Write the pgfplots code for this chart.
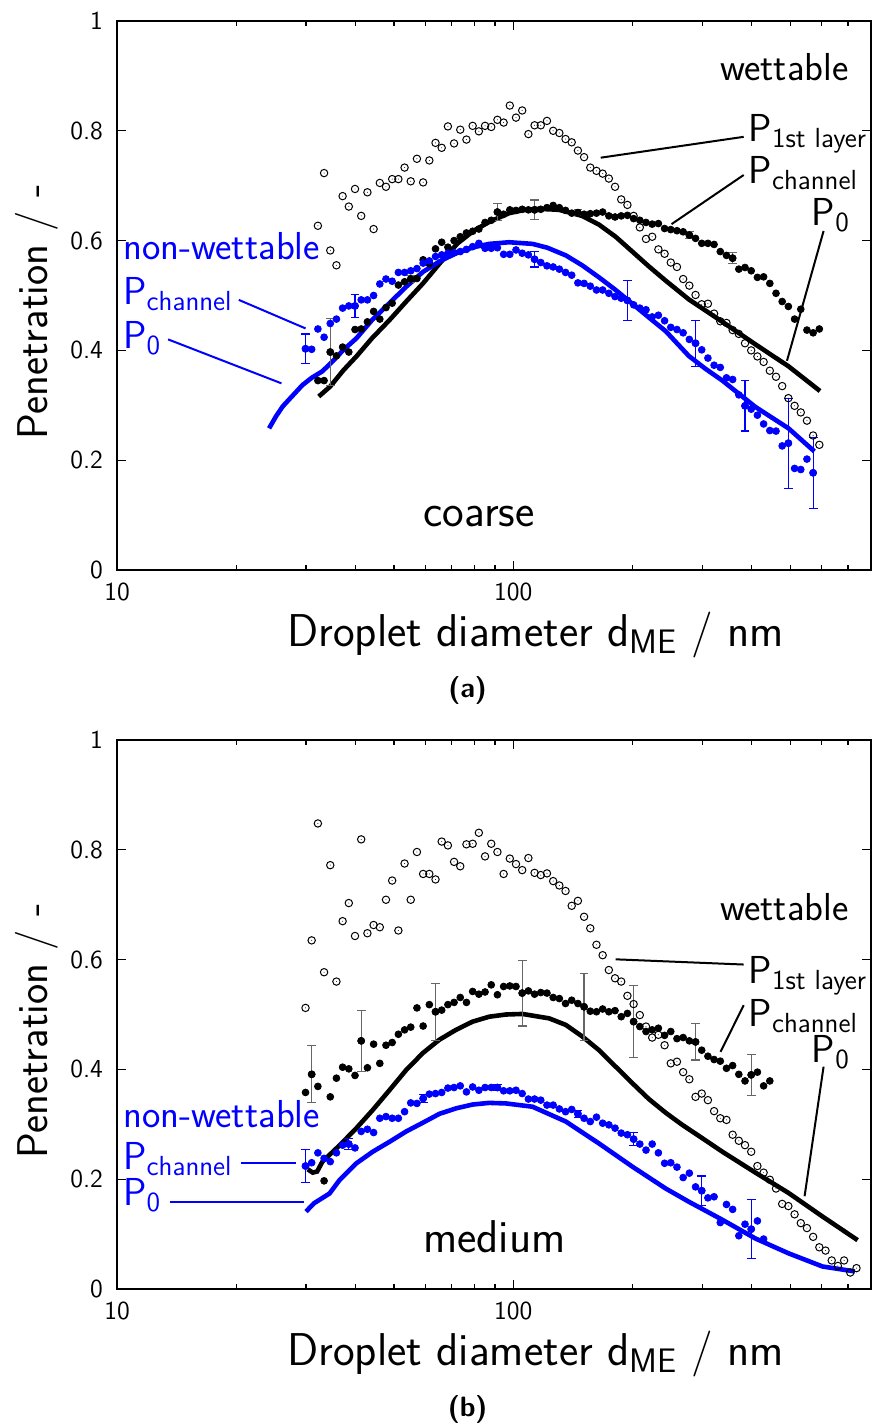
\documentclass[border=0pt]{standalone}
\usepackage{pgfplots}
\pgfplotsset{compat=1.18}
\usepackage{pgfplotstable}
\renewcommand{\familydefault}{\sfdefault}
\newcommand{\subA}[1]{\raisebox{-3pt}{\fontsize{13.8}{15}\selectfont #1}}
\newcommand{\subL}[1]{\raisebox{-3.5pt}{\fontsize{17}{18}\selectfont #1}}

\pgfdeclareplotmark{odot}{%
  \pgfpathcircle{\pgfpointorigin}{\pgfplotmarksize}\pgfusepathqstroke
  \pgfpathcircle{\pgfpointorigin}{0.13\pgfplotmarksize}\pgfusepathqfill}

% ---------------- panel (a) coarse ----------------
\pgfplotstableread{
d P
32.14 .627
33.32 .723
34.54 .582
35.80 .555
37.11 .681
38.47 .662
39.88 .694
41.34 .645
42.86 .688
44.43 .621
46.06 .705
47.74 .698
49.49 .712
51.31 .712
53.19 .733
55.13 .708
57.15 .749
59.25 .706
61.42 .746
63.67 .778
66.00 .769
68.42 .808
70.93 .777
73.52 .802
76.22 .784
79.01 .809
81.91 .799
84.91 .809
88.02 .807
91.24 .820
94.59 .815
98.05 .846
101.64 .824
105.37 .837
109.23 .794
113.23 .810
117.38 .810
121.68 .818
126.14 .800
130.76 .796
135.55 .785
140.50 .779
145.65 .764
150.98 .752
156.51 .733
162.25 .727
168.19 .722
174.35 .713
180.74 .698
187.36 .675
194.23 .665
201.34 .645
208.72 .624
216.37 .603
224.29 .607
232.51 .584
241.03 .576
249.86 .560
259.01 .552
268.50 .530
278.34 .518
288.54 .501
299.11 .484
310.07 .485
321.4 .467
333.2 .453
345.4 .450
358.0 .437
371.1 .430
384.7 .413
398.8 .400
413.4 .389
428.6 .379
444.3 .363
460.6 .352
477.4 .335
494.9 .313
513.1 .299
531.9 .287
551.3 .272
571.5 .245
592.5 .228
}\aOpen

\pgfplotstableread{
d P
32.14 .345
33.32 .345
34.54 .397
35.80 .390
37.11 .406
38.47 .397
39.88 .438
41.34 .439
42.86 .452
44.43 .471
46.06 .457
47.74 .478
49.49 .486
51.31 .519
53.19 .525
55.13 .530
57.15 .531
59.25 .565
61.42 .558
63.67 .585
66.00 .597
68.42 .588
70.93 .600
73.52 .607
76.22 .614
79.01 .617
81.91 .621
84.91 .633
88.02 .637
91.24 .652
94.59 .648
98.05 .656
101.64 .655
105.37 .657
109.23 .656
113.23 .656
117.38 .657
121.68 .660
126.14 .664
130.76 .660
135.55 .655
140.50 .650
145.65 .651
150.98 .648
156.51 .649
162.25 .650
168.19 .652
174.35 .645
180.74 .643
187.36 .645
194.23 .646
201.34 .640
208.72 .637
216.37 .633
224.29 .630
232.51 .631
241.03 .622
249.86 .620
259.01 .618
268.50 .616
278.34 .610
288.54 .604
299.11 .595
310.07 .595
321.4 .593
333.2 .580
345.4 .573
358.0 .568
371.1 .548
384.7 .551
398.8 .545
413.4 .533
428.6 .534
444.3 .522
460.6 .504
477.4 .489
494.9 .480
513.1 .457
531.9 .475
551.3 .437
571.5 .432
592.5 .439
}\aBlack

\pgfplotstableread{
d P
29.91 .403
31.00 .402
32.14 .439
33.32 .424
34.54 .449
35.80 .457
37.11 .477
38.47 .481
39.88 .481
41.34 .492
42.86 .492
44.43 .500
46.06 .521
47.74 .530
49.49 .526
51.31 .542
53.19 .542
55.13 .545
57.15 .549
59.25 .559
61.42 .563
63.67 .571
66.00 .574
68.42 .577
70.93 .578
73.52 .580
76.22 .584
79.01 .589
81.91 .595
84.91 .586
88.02 .586
91.24 .587
94.59 .575
98.05 .575
101.64 .583
105.37 .577
109.23 .574
113.23 .566
117.38 .560
121.68 .554
126.14 .552
130.76 .548
135.55 .542
140.50 .537
145.65 .523
150.98 .522
156.51 .517
162.25 .510
168.19 .510
174.35 .504
180.74 .498
187.36 .495
194.23 .491
201.34 .483
208.72 .477
216.37 .474
224.29 .461
232.51 .464
241.03 .454
249.86 .442
259.01 .438
268.50 .432
278.34 .420
288.54 .413
299.11 .401
310.07 .386
321.4 .373
333.2 .369
345.4 .350
358.0 .347
371.1 .319
384.7 .299
398.8 .293
413.4 .282
428.6 .266
444.3 .254
460.6 .253
477.4 .226
494.9 .231
513.1 .185
531.9 .183
551.3 .202
571.5 .177
}\aBlue

\pgfplotstableread{
d P
32.3 .316
34.5 .334
37.3 .364
40.2 .389
44.0 .422
48.7 .455
53.7 .489
59.2 .522
65.5 .560
72.4 .595
79.5 .618
87.0 .634
97.7 .650
107 .656
116.3 .658
130.6 .656
149.3 .645
164.7 .629
181.4 .607
199.8 .580
220.0 .553
242.6 .527
277.4 .493
337.3 .452
408.6 .411
495.3 .371
594.8 .326
}\aBlackLine

\pgfplotstableread{
d P
24.2 .258
25.2 .280
26.2 .298
27.3 .312
29.4 .337
31.0 .350
33.0 .362
35.0 .380
37.3 .401
40.2 .422
44.0 .455
48.7 .486
53.7 .516
59.2 .543
65.5 .563
72.4 .578
79.5 .588
87.0 .594
97.7 .597
111.9 .594
122 .587
135.8 .573
149.3 .555
164.7 .533
181.4 .510
199.8 .485
220.0 .460
242.6 .435
277.4 .390
305 .367
337.3 .345
408.6 .297
495.3 .258
575.6 .216
}\aBlueLine

\pgfplotstableread{
d P e
34.54 .397 .061
55.13 .530 .006
91.24 .652 .015
113.23 .656 .018
145.65 .651 .006
278.34 .610 .006
358.0 .568 .010
}\aBlackErr

\pgfplotstableread{
d P e
29.91 .403 .027
39.88 .481 .021
113.23 .566 .014
194.23 .491 .036
288.54 .413 .042
384.7 .299 .046
494.9 .231 .082
571.5 .177 .065
}\aBlueErr

% ---------------- panel (b) medium ----------------
\pgfplotstableread{
d P
29.91 .512
31.00 .635
32.14 .848
33.32 .577
34.54 .772
35.80 .560
37.11 .670
38.47 .703
39.88 .643
41.34 .819
42.86 .648
44.43 .663
46.06 .659
47.74 .709
49.49 .744
51.31 .653
53.19 .775
55.13 .709
57.15 .796
59.25 .756
61.42 .756
63.67 .746
66.00 .815
68.42 .808
70.93 .778
73.52 .770
76.22 .810
79.01 .811
81.91 .831
84.91 .788
88.02 .811
91.24 .796
94.59 .756
98.05 .784
101.64 .774
105.37 .763
109.23 .785
113.23 .758
117.38 .754
121.68 .757
126.14 .743
130.76 .735
135.55 .725
140.50 .698
145.65 .707
150.98 .678
156.51 .657
162.25 .627
168.19 .608
174.35 .581
180.74 .566
187.36 .560
194.23 .534
201.34 .519
208.72 .499
216.37 .478
224.29 .458
232.51 .463
241.03 .444
249.86 .411
259.01 .414
268.50 .395
278.34 .382
288.54 .350
299.11 .356
310.07 .344
321.4 .324
333.2 .311
345.4 .308
358.0 .281
371.1 .270
384.7 .262
398.8 .250
413.4 .224
428.6 .212
444.3 .199
460.6 .183
477.4 .155
494.9 .151
513.1 .136
531.9 .120
551.3 .111
571.5 .095
592.5 .076
614.2 .070
636.7 .052
660.0 .042
684.2 .052
709.3 .030
735.3 .038
}\bOpen

\pgfplotstableread{
d P
29.91 .358
31.00 .391
32.14 .369
33.32 .197
34.54 .350
35.80 .384
37.11 .404
38.47 .401
39.88 .389
41.34 .452
42.86 .403
44.43 .446
46.06 .411
47.74 .444
49.49 .449
51.31 .464
53.19 .472
55.13 .477
57.15 .512
59.25 .479
61.42 .518
63.67 .505
66.00 .508
68.42 .518
70.93 .522
73.52 .531
76.22 .522
79.01 .542
81.91 .537
84.91 .541
88.02 .554
91.24 .536
94.59 .551
98.05 .552
101.64 .551
105.37 .539
109.23 .543
113.23 .537
117.38 .540
121.68 .539
126.14 .531
130.76 .529
135.55 .520
140.50 .526
145.65 .520
150.98 .514
156.51 .506
162.25 .505
168.19 .510
174.35 .505
180.74 .507
187.36 .496
194.23 .502
201.34 .487
208.72 .478
216.37 .469
224.29 .472
232.51 .475
241.03 .462
249.86 .469
259.01 .456
268.50 .458
278.34 .452
288.54 .450
299.11 .435
310.07 .424
321.4 .418
333.2 .415
345.4 .402
358.0 .407
371.1 .391
384.7 .379
398.8 .390
413.4 .395
428.6 .370
444.3 .379
}\bBlack

\pgfplotstableread{
d P
29.91 .224
31.00 .230
32.14 .248
33.32 .238
34.54 .232
35.80 .248
37.11 .262
38.47 .264
39.88 .257
41.34 .287
42.86 .291
44.43 .285
46.06 .311
47.74 .314
49.49 .311
51.31 .311
53.19 .323
55.13 .339
57.15 .338
59.25 .347
61.42 .355
63.67 .356
66.00 .358
68.42 .366
70.93 .367
73.52 .370
76.22 .359
79.01 .368
81.91 .362
84.91 .367
88.02 .367
91.24 .367
94.59 .361
98.05 .361
101.64 .362
105.37 .356
109.23 .346
113.23 .346
117.38 .344
121.68 .335
126.14 .335
130.76 .328
135.55 .323
140.50 .327
145.65 .319
150.98 .311
156.51 .305
162.25 .313
168.19 .302
174.35 .299
180.74 .293
187.36 .284
194.23 .281
201.34 .273
208.72 .264
216.37 .253
224.29 .264
232.51 .248
241.03 .229
249.86 .230
259.01 .222
268.50 .203
278.34 .211
288.54 .186
299.11 .179
310.07 .166
321.4 .168
333.2 .121
345.4 .154
358.0 .145
371.1 .097
384.7 .118
398.8 .109
413.4 .124
428.6 .091
}\bBlue

\pgfplotstableread{
d P
30.3 .218
31.2 .212
32.0 .214
33.0 .232
36.5 .262
40.2 .293
44.2 .326
48.7 .362
53.7 .399
59.2 .430
65.1 .454
71.7 .472
79.0 .487
87.0 .496
95.9 .500
105.5 .501
123.2 .493
135.8 .481
149.4 .460
164.7 .435
181.4 .405
199.8 .375
220.0 .346
242.6 .321
267.1 .299
294.0 .279
337.3 .250
408.6 .212
495.3 .175
603.5 .132
740 .089
}\bBlackLine

\pgfplotstableread{
d P
30.0 .141
31.4 .156
34.4 .174
36.5 .199
40.2 .229
44.2 .250
48.7 .268
53.7 .287
59.2 .303
65.1 .319
71.7 .329
79.0 .336
87.0 .339
95.9 .338
111.9 .332
135.8 .305
164.7 .265
199.8 .223
242.6 .183
277.4 .159
337.3 .126
408.6 .092
495.3 .065
603.5 .041
728.4 .032
}\bBlueLine

\pgfplotstableread{
d P e
31.00 .391 .052
41.34 .452 .056
63.67 .505 .052
105.37 .539 .060
150.98 .514 .061
201.34 .487 .066
288.54 .450 .033
398.8 .390 .037
}\bBlackErr

\pgfplotstableread{
d P e
29.91 .224 .030
38.47 .264 .010
59.25 .347 .008
91.24 .367 .006
145.65 .319 .006
201.34 .273 .012
299.11 .179 .027
398.8 .109 .054
}\bBlueErr

\tikzset{ann/.style={font=\fontsize{19.5}{22}\selectfont, inner sep=0pt},
         big/.style={font=\fontsize{23}{26}\selectfont, inner sep=0pt}}

\begin{document}
\begin{tikzpicture}
\path[use as bounding box] (0,0) rectangle (436pt,713pt);

% ---------- (a) ----------
\begin{axis}[
    at={(58.5pt,428pt)}, anchor=south west,
    scale only axis, width=377pt, height=274.5pt,
    xmode=log, xmin=10, xmax=800, ymin=0, ymax=1,
    ytick={0,0.2,0.4,0.6,0.8,1}, yticklabels={0,0.2,0.4,0.6,0.8,1},
    xtick={10,100}, xticklabels={10,100},
    minor xtick={20,30,40,50,60,70,80,90,200,300,400,500,600,700,800},
    tick align=inside, major tick length=4.5pt, minor tick length=2.5pt,
    axis line style={line width=0.9pt},
    every tick/.append style={black, line width=0.6pt},
    tick label style={font=\fontsize{13}{15}\selectfont},
    yticklabel style={xshift=-3.5pt},
    xticklabel style={yshift=-3pt},
    xlabel={Droplet diameter d\subL{ME} / nm},
    ylabel={Penetration / -},
    xlabel style={at={(axis description cs:0.555,-0.118)}, anchor=center, font=\fontsize{23}{26}\selectfont},
    ylabel style={at={(axis description cs:-0.0927,0.4705)}, anchor=base, font=\fontsize{21.5}{24}\selectfont},
    clip=false]
\addplot[no marks, black, line width=2.3pt] table[x=d,y=P] {\aBlackLine};
\addplot[no marks, blue, line width=2.3pt] table[x=d,y=P] {\aBlueLine};
\addplot[only marks, mark=odot, mark size=1.85pt, black, mark options={line width=0.5pt}] table[x=d,y=P] {\aOpen};
\addplot[only marks, mark=*, mark size=1.7pt, black] table[x=d,y=P] {\aBlack};
\addplot[only marks, mark=*, mark size=1.7pt, black,
   error bars/.cd, y dir=both, y explicit,
   error bar style={gray!80!black, line width=0.6pt},
   error mark options={rotate=90, gray!80!black, line width=0.6pt, mark size=2.2pt}] table[x=d,y=P,y error=e] {\aBlackErr};
\addplot[only marks, mark=*, mark size=1.7pt, blue] table[x=d,y=P] {\aBlue};
\addplot[only marks, mark=*, mark size=1.7pt, blue,
   error bars/.cd, y dir=both, y explicit,
   error bar style={blue, line width=0.6pt},
   error mark options={rotate=90, blue, line width=0.6pt, mark size=2.2pt}] table[x=d,y=P,y error=e] {\aBlueErr};

\node[ann, anchor=base] at (axis cs:484,0.8925) {wettable};
\node[ann, anchor=base west] at (axis cs:392,0.780) {P\subA{1st layer}};
\node[ann, anchor=base west] at (axis cs:392,0.704) {P\subA{channel}};
\node[ann, anchor=base west] at (axis cs:566,0.628) {P\subA{0}};
\node[ann, anchor=base west, blue] at (axis cs:10.35,0.565) {non-wettable};
\node[ann, anchor=base west, blue] at (axis cs:10.35,0.483) {P\subA{channel}};
\node[ann, anchor=base west, blue] at (axis cs:10.35,0.404) {P\subA{0}};
\node[big, anchor=center] at (axis cs:82,0.0965) {coarse};
\draw[line width=1pt] (axis cs:166.3,0.751) -- (axis cs:381.8,0.789);
\draw[line width=1pt] (axis cs:251.0,0.630) -- (axis cs:381.8,0.7195);
\draw[line width=1pt] (axis cs:607.3,0.6175) -- (axis cs:490.9,0.381);
\draw[line width=1pt, blue] (axis cs:20.3,0.492) -- (axis cs:29.92,0.440);
\draw[line width=1pt, blue] (axis cs:13.46,0.420) -- (axis cs:26.0,0.340);
\node[font=\bfseries\fontsize{14}{16}\selectfont] at (axis description cs:0.465,-0.2186) {(a)};
\end{axis}

% ---------- (b) ----------
\begin{axis}[
    at={(58.5pt,68.5pt)}, anchor=south west,
    scale only axis, width=377pt, height=274.5pt,
    xmode=log, xmin=10, xmax=800, ymin=0, ymax=1,
    ytick={0,0.2,0.4,0.6,0.8,1}, yticklabels={0,0.2,0.4,0.6,0.8,1},
    xtick={10,100}, xticklabels={10,100},
    minor xtick={20,30,40,50,60,70,80,90,200,300,400,500,600,700,800},
    tick align=inside, major tick length=4.5pt, minor tick length=2.5pt,
    axis line style={line width=0.9pt},
    every tick/.append style={black, line width=0.6pt},
    tick label style={font=\fontsize{13}{15}\selectfont},
    yticklabel style={xshift=-3.5pt},
    xticklabel style={yshift=-3pt},
    xlabel={Droplet diameter d\subL{ME} / nm},
    ylabel={Penetration / -},
    xlabel style={at={(axis description cs:0.555,-0.118)}, anchor=center, font=\fontsize{23}{26}\selectfont},
    ylabel style={at={(axis description cs:-0.0927,0.4705)}, anchor=base, font=\fontsize{21.5}{24}\selectfont},
    clip=false]
\addplot[no marks, black, line width=2.3pt] table[x=d,y=P] {\bBlackLine};
\addplot[no marks, blue, line width=2.3pt] table[x=d,y=P] {\bBlueLine};
\addplot[only marks, mark=odot, mark size=1.85pt, black, mark options={line width=0.5pt}] table[x=d,y=P] {\bOpen};
\addplot[only marks, mark=*, mark size=1.7pt, black] table[x=d,y=P] {\bBlack};
\addplot[only marks, mark=*, mark size=1.7pt, black,
   error bars/.cd, y dir=both, y explicit,
   error bar style={gray!80!black, line width=0.6pt},
   error mark options={rotate=90, gray!80!black, line width=0.6pt, mark size=2.2pt}] table[x=d,y=P,y error=e] {\bBlackErr};
\addplot[only marks, mark=*, mark size=1.7pt, blue] table[x=d,y=P] {\bBlue};
\addplot[only marks, mark=*, mark size=1.7pt, blue,
   error bars/.cd, y dir=both, y explicit,
   error bar style={blue, line width=0.6pt},
   error mark options={rotate=90, blue, line width=0.6pt, mark size=2.2pt}] table[x=d,y=P,y error=e] {\bBlueErr};

\node[ann, anchor=base] at (axis cs:484,0.672) {wettable};
\node[ann, anchor=base west] at (axis cs:392,0.557) {P\subA{1st layer}};
\node[ann, anchor=base west] at (axis cs:392,0.478) {P\subA{channel}};
\node[ann, anchor=base west] at (axis cs:566,0.412) {P\subA{0}};
\node[ann, anchor=base west, blue] at (axis cs:10.35,0.295) {non-wettable};
\node[ann, anchor=base west, blue] at (axis cs:10.35,0.217) {P\subA{channel}};
\node[ann, anchor=base west, blue] at (axis cs:10.35,0.153) {P\subA{0}};
\node[big, anchor=center] at (axis cs:89.6,0.0947) {medium};
\draw[line width=1pt] (axis cs:181.4,0.6005) -- (axis cs:381.8,0.591);
\draw[line width=1pt] (axis cs:333.7,0.432) -- (axis cs:381.8,0.517);
\draw[line width=1pt] (axis cs:607.3,0.405) -- (axis cs:543.8,0.169);
\draw[line width=1pt, blue] (axis cs:20.6,0.229) -- (axis cs:28.35,0.229);
\draw[line width=1pt, blue] (axis cs:13.6,0.158) -- (axis cs:29.7,0.158);
\node[font=\bfseries\fontsize{14}{16}\selectfont] at (axis description cs:0.465,-0.2186) {(b)};
\end{axis}
\end{tikzpicture}
\end{document}
